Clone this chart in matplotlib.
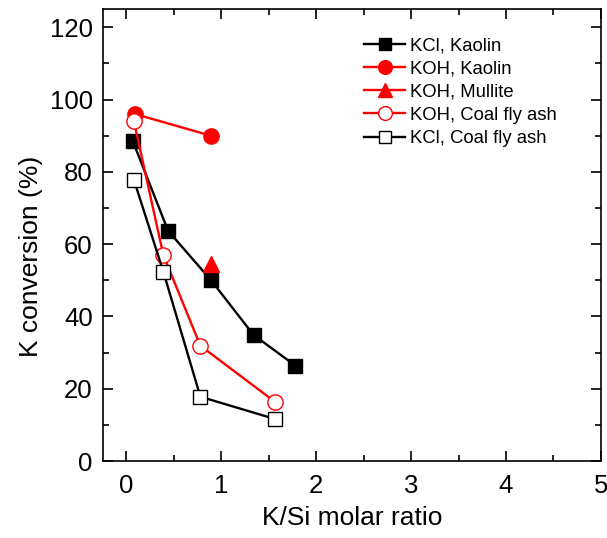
import numpy as np
import matplotlib.pyplot as plt
from matplotlib.ticker import MultipleLocator

plt.rcParams['font.family'] = ['Liberation Sans', 'DejaVu Sans']

# KCl, Kaolin
x_kcl_kao = [0.07, 0.44, 0.89, 1.34, 1.78]
y_kcl_kao = [88.4, 63.7, 50.1, 34.9, 26.4]
# KOH, Kaolin
x_koh_kao = [0.09, 0.89]
y_koh_kao = [96.0, 90.0]
# KOH, Mullite
x_koh_mul = [0.89]
y_koh_mul = [54.5]
# KOH, Coal fly ash
x_koh_cfa = [0.08, 0.39, 0.78, 1.57]
y_koh_cfa = [94.0, 57.0, 31.9, 16.3]
# KCl, Coal fly ash
x_kcl_cfa = [0.08, 0.39, 0.78, 1.57]
y_kcl_cfa = [77.8, 52.4, 17.8, 11.6]

fig = plt.figure(figsize=(6.07, 5.38), dpi=100)
ax = fig.add_axes([0.169, 0.143, 0.821, 0.840])

ms = 10
lw = 1.7
ax.plot(x_kcl_kao, y_kcl_kao, '-s', color='black', ms=ms, lw=lw, label='KCl, Kaolin')
ax.plot(x_koh_kao, y_koh_kao, '-o', color='red', ms=ms + 1, lw=lw, label='KOH, Kaolin')
ax.plot(x_koh_mul, y_koh_mul, '-^', color='red', ms=ms + 1, lw=lw, label='KOH, Mullite')
ax.plot(x_koh_cfa, y_koh_cfa, '-o', color='red', mfc='white', ms=ms + 1, lw=lw,
        label='KOH, Coal fly ash')
ax.plot(x_kcl_cfa, y_kcl_cfa, '-s', color='black', mfc='white', ms=ms, lw=lw,
        label='KCl, Coal fly ash')

ax.set_xlim(-0.25, 5)
ax.set_ylim(0, 125)
ax.xaxis.set_major_locator(MultipleLocator(1))
ax.xaxis.set_minor_locator(MultipleLocator(0.5))
ax.yaxis.set_major_locator(MultipleLocator(20))
ax.yaxis.set_minor_locator(MultipleLocator(10))
ax.tick_params(which='both', direction='in', top=True, right=True, width=1.2, labelsize=18.5)
ax.tick_params(which='major', length=7)
ax.tick_params(which='minor', length=4)
ax.tick_params(axis='x', pad=9)
ax.tick_params(axis='y', pad=7)
for s in ax.spines.values():
    s.set_linewidth(1.2)

ax.set_xlabel('K/Si molar ratio', fontsize=19, labelpad=6)
ax.set_ylabel('K conversion (%)', fontsize=19)
ax.yaxis.set_label_coords(-0.12, 0.454)

ax.legend(loc='upper left', bbox_to_anchor=(0.525, 0.937), frameon=False, fontsize=13.3,
          handlelength=2.2, handletextpad=0.3, labelspacing=0.33,
          borderpad=0, borderaxespad=0, markerscale=0.9)

fig.savefig('out.png', dpi=100)
